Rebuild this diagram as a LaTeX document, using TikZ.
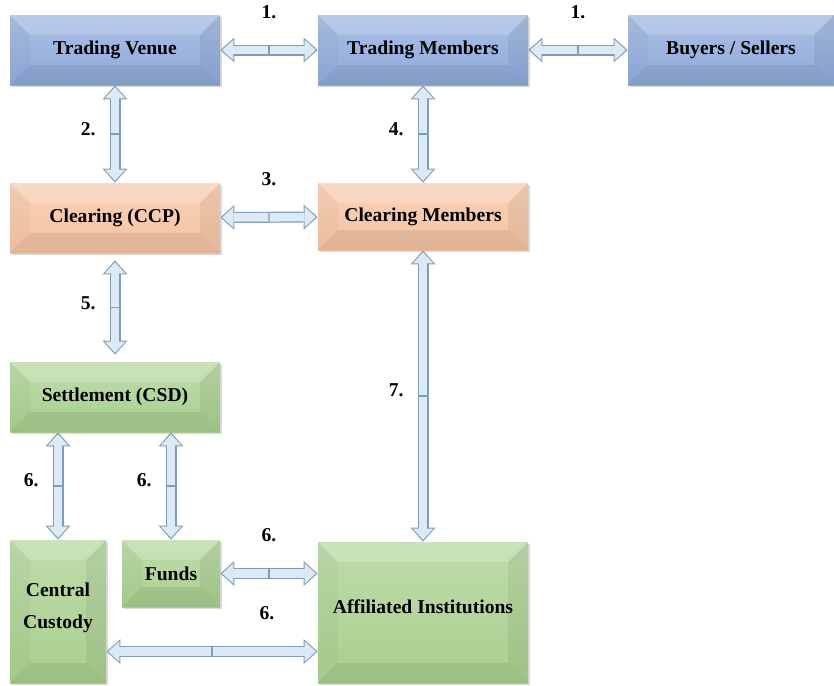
\documentclass[tikz,border=0pt]{standalone}
\usepackage{fontspec}
\setmainfont{Liberation Serif}
\newfontfamily\timesfam{Liberation Serif}
\usetikzlibrary{
  positioning,
  arrows.meta,
  shadows,
  decorations.markings
}
\definecolor{VenueBlue}{HTML}{8EAADB}
\definecolor{ClearPeach}{HTML}{F5C3A1}
\definecolor{SettleGreen}{HTML}{A9D08E}
\definecolor{LinkEdge}{HTML}{7F9DB9}
\definecolor{LinkFill}{HTML}{DCEAF6}
\newcommand\boxfont{\timesfam\fontsize{9.8}{11}\selectfont\bfseries}

\tikzset{
  bevel/.style={path picture={
    \path (path picture bounding box.north west) coordinate (bnw)
          (path picture bounding box.north east) coordinate (bne)
          (path picture bounding box.south west) coordinate (bsw)
          (path picture bounding box.south east) coordinate (bse);
    \fill[white, opacity=.18] (bnw) -- (bne) -- ([shift={(-#1,-#1)}]bne) -- ([shift={(#1,-#1)}]bnw) -- cycle;
    \fill[black, opacity=.03] (bnw) -- ([shift={(#1,-#1)}]bnw) -- ([shift={(#1,#1)}]bsw) -- (bsw) -- cycle;
    \fill[black, opacity=.06] (bne) -- ([shift={(-#1,-#1)}]bne) -- ([shift={(-#1,#1)}]bse) -- (bse) -- cycle;
    \fill[black, opacity=.08] (bsw) -- ([shift={(#1,#1)}]bsw) -- ([shift={(-#1,#1)}]bse) -- (bse) -- cycle;
  }}
}

\begin{document}
\begin{tikzpicture}[
  x=0.5pt, y=-0.5pt,
  box/.style   = {draw=none, align=center, font=\boxfont, text=black,
                  top color=#1!75!white, bottom color=#1, bevel=10pt,
                  drop shadow={shadow xshift=1pt, shadow yshift=-1.2pt, opacity=.3}},
  wide/.style  = {minimum width=105pt, minimum height=35pt},
  num/.style   = {font=\boxfont, inner sep=2pt},
  link/.style  = {line width=5.5pt, draw=LinkEdge,
                  {Triangle[length=7pt,width=12.5pt,line width=0pt]}-{Triangle[length=7pt,width=12.5pt,line width=0pt]},
                  postaction={draw=LinkFill, line width=4.3pt, shorten >=0.9pt, shorten <=0.9pt,
                    {Triangle[length=5.6pt,width=10.3pt,line width=0pt]}-{Triangle[length=5.6pt,width=10.3pt,line width=0pt]}},
                  postaction={decorate, decoration={markings,
                    mark=at position .5 with {\draw[arrows=-, LinkEdge, line width=.7pt] (0,-2.3pt) -- (0,2.3pt);}}}}
]
  \useasboundingbox (0,0) rectangle (834,685);

  % Trading layer
  \node[box=VenueBlue, wide] (tv) at (115,50)  {Trading Venue};
  \node[box=VenueBlue, wide] (tm) at (423,50)  {Trading Members};
  \node[box=VenueBlue, wide, minimum width=103pt] (bs) at (731,50) {Buyers / Sellers};

  % Clearing layer
  \node[box=ClearPeach, wide] (ccp) at (115,218)  {Clearing (CCP)};
  \node[box=ClearPeach, wide, minimum height=33.5pt] (cm) at (423,216.5) {Clearing Members};

  % Settlement layer
  \node[box=SettleGreen, wide] (csd) at (115,397) {Settlement (CSD)};
  \node[box=SettleGreen, minimum width=48pt, minimum height=71.5pt] (cc) at (58,611.5) {Central\\[5pt]Custody\\[-5pt]};
  \node[box=SettleGreen, minimum width=49pt, minimum height=33.5pt] (fd) at (171,573.5) {Funds};
  \node[box=SettleGreen, minimum width=105pt, minimum height=70.5pt] (ai) at (423,612.5) {Affiliated Institutions\\[-5pt]};

  % Links
  \draw[link] (tv) -- node[num, above=11pt]{1.} (tm);
  \draw[link] (tm) -- node[num, above=11pt]{1.} (bs);
  \draw[link] (tv) -- node[num, left=5pt, pos=.45]{2.} (ccp);
  \draw[link] (tm) -- node[num, left=5pt, pos=.45]{4.} (cm);
  \draw[link] (ccp) -- node[num, above=11pt]{3.} (cm);
  \draw[link] ([yshift=-3.5pt]ccp.south) -- node[num, left=5pt, pos=.45]{5.} ([yshift=3.5pt]csd.north);
  \draw[link] (cm) -- node[num, left=5pt, pos=.48]{7.} (ai);
  \draw[link] (cc.north |- csd.south) -- node[num, left=5pt, pos=.45]{6.} (cc.north);
  \draw[link] (fd.north |- csd.south) -- node[num, left=5pt, pos=.45]{6.} (fd.north);
  \draw[link] (fd.east) -- node[num, above=11pt]{6.} (fd.east -| ai.west);
  \coordinate (cclow) at ([yshift=-20pt]cc.east);
  \draw[link] (cclow) -- node[num, above=11pt, pos=.76]{6.} (cclow -| ai.west);

\end{tikzpicture}
\end{document}
